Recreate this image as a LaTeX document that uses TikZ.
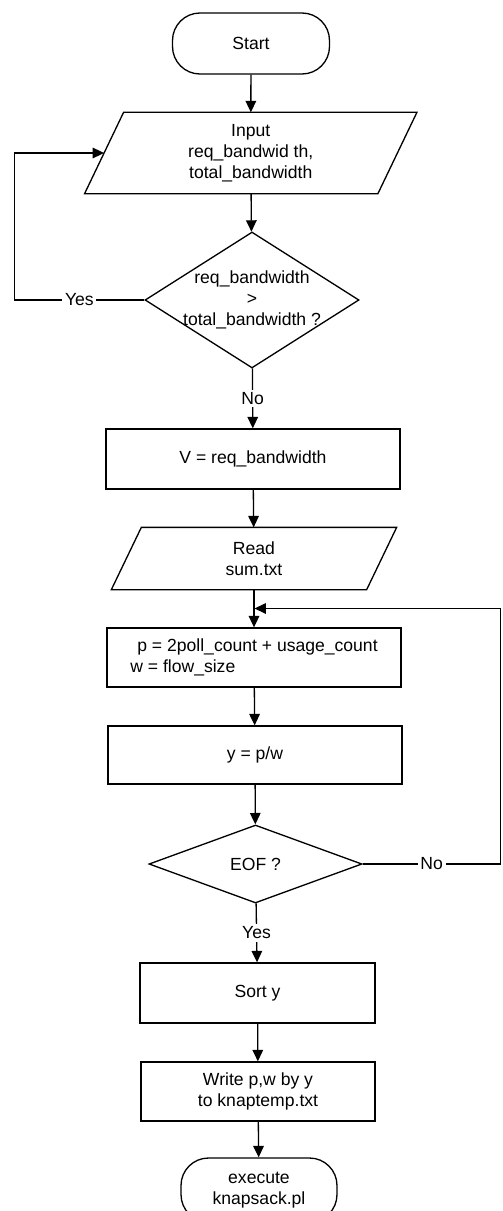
\documentclass[tikz,border=0pt]{standalone}
\usepackage{fontspec}
\setmainfont{Liberation Sans}
\usetikzlibrary{shapes.geometric,arrows.meta}
\begin{document}
\begin{tikzpicture}[
    font=\fontsize{10}{11.8}\selectfont,
    line width=0.75pt,
    term/.style={draw,rectangle,rounded corners=0.55cm,inner sep=0pt,align=center},
    proc/.style={draw,rectangle,inner sep=0pt,align=center},
    io/.style={rectangle,inner sep=0pt,align=center},
    test/.style={draw,diamond,inner sep=0pt,align=center},
    flow/.style={-{Triangle[length=6.5pt,width=6pt]}},
    lbl/.style={fill=white,inner sep=1.5pt}
  ]
  \useasboundingbox (0,0) rectangle (10.04,-24.22);
  \clip (0,0) rectangle (10.04,-24.22);
  % boxes
  \node[term,minimum width=3.14cm,minimum height=1.22cm] (start) at (5.02,-0.87) {Start};
  \node[io,minimum width=5.84cm,minimum height=1.6cm] (inp) at (5.015,-3.06)
    {Input\\req\_bandwid th,\\total\_bandwidth};
  \draw ([xshift=0.39cm]inp.north west) -- ([xshift=0.39cm]inp.north east)
    -- ([xshift=-0.39cm]inp.south east) -- ([xshift=-0.39cm]inp.south west) -- cycle;
  \node[test,minimum width=4.28cm,minimum height=2.72cm] (d1) at (5.04,-6.0) {};
  \node[align=center] (d1txt) at (d1) {req\_bandwidth\\>\\total\_bandwidth ?};
  \node[proc,minimum width=5.88cm,minimum height=1.2cm] (v) at (5.06,-9.18) {V = req\_bandwidth};
  \node[io,minimum width=5.08cm,minimum height=1.22cm] (read) at (5.08,-11.17) {Read\\sum.txt};
  \draw ([xshift=0.3cm]read.north west) -- ([xshift=0.3cm]read.north east)
    -- ([xshift=-0.3cm]read.south east) -- ([xshift=-0.3cm]read.south west) -- cycle;
  \node[proc,minimum width=5.88cm,minimum height=1.18cm,align=left] (pw) at (5.08,-13.15)
    {\hspace*{4pt}p = 2poll\_count + usage\_count\\w = flow\_size};
  \node[proc,minimum width=5.88cm,minimum height=1.16cm] (yb) at (5.10,-15.10) {y = p/w};
  \node[test,minimum width=4.26cm,minimum height=1.56cm] (eof) at (5.11,-17.28) {EOF ?};
  \node[proc,minimum width=4.7cm,minimum height=1.2cm] (sort) at (5.15,-19.86) {Sort y};
  \node[proc,minimum width=4.68cm,minimum height=1.18cm] (write) at (5.16,-21.83)
    {Write p,w by y\\to knaptemp.txt};
  \node[term,minimum width=3.12cm,minimum height=1.28cm] (exec) at (5.18,-23.8)
    {execute\\knapsack.pl};
  \coordinate (back) at (5.09,-12.17);
  % connectors
  \begin{scope}
    \draw[flow] (start) -- (inp);
    \draw[flow] (inp) -- (d1);
    \draw[flow] (d1.west) -- node[lbl]{Yes} ++(-2.6,0) |- (inp.west);
    \draw[flow] (d1) -- node[lbl]{No} (v);
    \draw[flow] (v) -- (read);
    \draw[flow] (read) -- (pw);
    \draw[flow] (eof.east) -- node[lbl]{No} ++(2.76,0) |- (back);
    \draw[flow] (pw) -- (yb);
    \draw[flow] (yb) -- (eof);
    \draw[flow] (eof) -- node[lbl]{Yes} (sort);
    \draw[flow] (sort) -- (write);
    \draw[flow] (write) -- (exec);
  \end{scope}
\end{tikzpicture}
\end{document}
